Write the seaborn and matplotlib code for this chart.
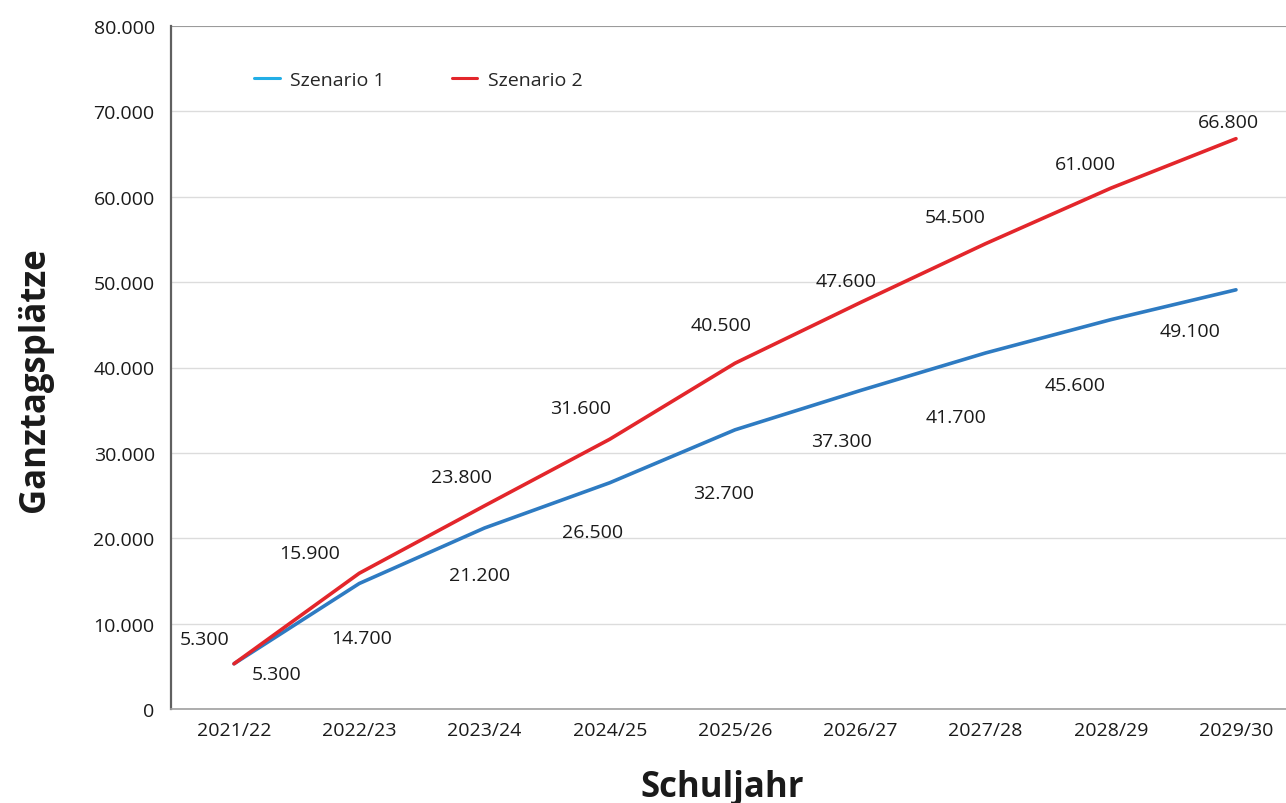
import matplotlib
matplotlib.use("Agg")
import matplotlib.pyplot as plt
import seaborn as sns
import pandas as pd
from matplotlib.lines import Line2D
from matplotlib.ticker import FuncFormatter

years = ["2021/22", "2022/23", "2023/24", "2024/25", "2025/26",
         "2026/27", "2027/28", "2028/29", "2029/30"]
szenario1 = [5300, 14700, 21200, 26500, 32700, 37300, 41700, 45600, 49100]
szenario2 = [5300, 15900, 23800, 31600, 40500, 47600, 54500, 61000, 66800]
series_names = ["Szenario 1", "Szenario 2"]

# label offsets in pixels (layout only)
off1 = [(43, -10), (2, -55), (-5, -47), (-17, -49), (-11, -63), (-19, -50), (-29, -64), (-36, -65), (-46, -41)]
off2 = [(-29, 25), (-50, 20), (-23, 29), (-29, 31), (-14, 38), (-14, 22), (-30, 27), (-25, 24), (-8, 17)]

df = pd.DataFrame({
    "Schuljahr": years * 2,
    "value": szenario1 + szenario2,
    "series": [series_names[0]] * len(years) + [series_names[1]] * len(years),
})
df["x"] = list(range(len(years))) * 2

sns.set_theme(style="white")
plt.rcParams["font.family"] = ["Open Sans", "DejaVu Sans"]

fig = plt.figure(figsize=(12.86, 8.04), dpi=100)
W, H = 1286, 804
left_px, right_px = 171.4, 1298.6
top_px, bot_px = 27, 710
ax = fig.add_axes([left_px / W, (H - bot_px) / H, (right_px - left_px) / W, (bot_px - top_px) / H])

line_col = {"Szenario 1": "#2E7BC2", "Szenario 2": "#E3262B"}
sns.lineplot(data=df, x="x", y="value", hue="series", palette=line_col,
             linewidth=2.6, ax=ax, legend=False)

FS = 14
ax.set_xlim(-0.5, len(years) - 0.5)
ax.set_ylim(0, 80000)
ax.set_yticks(range(0, 80001, 10000))
ax.yaxis.set_major_formatter(FuncFormatter(lambda v, p: "0" if v == 0 else f"{int(v):,}".replace(",", ".")))
ax.set_xticks(range(len(years)))
ax.set_xticklabels(years)
ax.tick_params(axis="both", length=0, labelsize=FS, colors="#1a1a1a")
ax.tick_params(axis="x", pad=9)
ax.tick_params(axis="y", pad=12)
ax.grid(axis="y", color="#DCDCDC", linewidth=1.0)
ax.set_axisbelow(True)

for s in ["top", "right"]:
    ax.spines[s].set_visible(False)
ax.axhline(80000, color="#9A9A9A", linewidth=1.4, zorder=1)
ax.spines["left"].set_color("#606060")
ax.spines["left"].set_linewidth(1.6)
ax.spines["bottom"].set_color("#A0A0A0")
ax.spines["bottom"].set_linewidth(1.2)

for i, v in enumerate(szenario1):
    ax.annotate(f"{v:,}".replace(",", "."), (i, v), xytext=off1[i], textcoords="offset pixels",
                ha="center", va="center", fontsize=FS, color="#1a1a1a")
for i, v in enumerate(szenario2):
    ax.annotate(f"{v:,}".replace(",", "."), (i, v), xytext=off2[i], textcoords="offset pixels",
                ha="center", va="center", fontsize=FS, color="#1a1a1a")

ax.set_xlabel("Schuljahr", fontsize=25, fontweight="bold", color="#1a1a1a", labelpad=21)
ax.set_ylabel("Ganztagsplätze", fontsize=25, fontweight="bold", color="#1a1a1a", labelpad=29)
ax.xaxis.label.set_x((722 - left_px) / (right_px - left_px))
ax.yaxis.label.set_y((bot_px - 380) / (bot_px - top_px))

handles = [Line2D([0], [0], color="#22AEE6", lw=2.2), Line2D([0], [0], color="#E3262B", lw=2.2)]
ax.legend(handles, series_names, loc="upper left", bbox_to_anchor=(0.058, 0.9595), ncol=2,
          frameon=False, fontsize=FS, handlelength=1.3, handletextpad=0.55, columnspacing=3.45)

fig.savefig("out.png", dpi=100, facecolor="white")
